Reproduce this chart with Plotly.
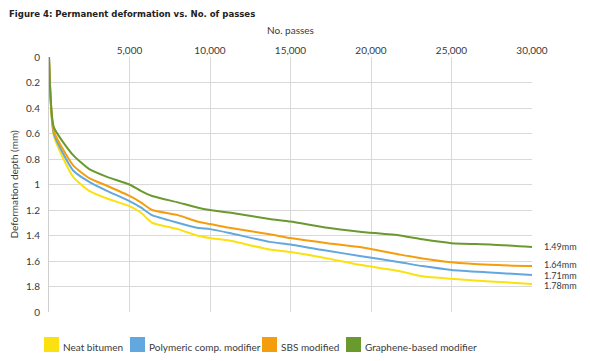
import plotly.graph_objects as go

passes = [0, 300, 1500, 2500, 3600, 5000, 5700, 6400, 8000, 9200, 10000, 11200,
          13700, 15000, 17300, 19300, 21800, 23200, 25000, 27400, 30000]

neat_bitumen = [0, 0.62, 0.94, 1.05, 1.11, 1.17, 1.22, 1.30, 1.35, 1.40, 1.42, 1.44,
                1.51, 1.53, 1.58, 1.63, 1.68, 1.72, 1.74, 1.76, 1.78]
polymeric = [0, 0.60, 0.89, 0.98, 1.05, 1.13, 1.18, 1.24, 1.30, 1.34, 1.35, 1.38,
             1.45, 1.47, 1.52, 1.56, 1.61, 1.64, 1.67, 1.69, 1.71]
sbs = [0, 0.58, 0.85, 0.95, 1.01, 1.09, 1.14, 1.20, 1.24, 1.29, 1.31, 1.34,
       1.39, 1.42, 1.46, 1.49, 1.55, 1.58, 1.61, 1.63, 1.64]
graphene = [0, 0.55, 0.77, 0.88, 0.94, 1.00, 1.05, 1.09, 1.14, 1.18, 1.20, 1.22,
            1.27, 1.29, 1.34, 1.37, 1.40, 1.43, 1.46, 1.47, 1.49]

series_names = ["Neat bitumen", "Polymeric comp. modifier", "SBS modified", "Graphene-based modifier"]
series_values = [neat_bitumen, polymeric, sbs, graphene]
series_colors = ["#FBE10F", "#62A8DE", "#F49E0E", "#6A9A2E"]
label_yshift = [-2, 0, 2, 0]

x_tickvals = [5000, 10000, 15000, 20000, 25000, 30000]
x_ticktext = ["5,000", "10,000", "15,000", "20,000", "25,000", "30,000"]
y_tickvals = [0, 0.2, 0.4, 0.6, 0.8, 1.0, 1.2, 1.4, 1.6, 1.8, 2.0]
y_ticktext = ["0", "0.2", "0.4", "0.6", "0.8", "1", "1.2", "1.4", "1.6", "1.8", "0"]

FONT = "Lato, Open Sans, sans-serif"
TXT = "#3a3a3a"

# page body has an 8px margin; figure is sized/offset to compensate
OFF = 8
W = 582.0
H = 353.0
pl, pt = 49 - OFF, 57 - OFF
pr = W - (532 - OFF)
pb = H - (312 - OFF)
pw = W - pl - pr
ph = H - pt - pb


def px_x(px):
    return (px - OFF - pl) / pw


def px_y(py):
    return (H - pb - (py - OFF)) / ph


fig = go.Figure()
for name, vals, col in zip(series_names, series_values, series_colors):
    fig.add_trace(go.Scatter(x=passes, y=vals, mode="lines", name=name,
                             line=dict(color=col, width=2, shape="spline", smoothing=0.5),
                             showlegend=False))

# end labels
for vals, ys in zip(series_values, label_yshift):
    fig.add_annotation(x=1, xref="paper", y=vals[-1], yref="y", xanchor="left",
                       xshift=11, yshift=ys, text=f"{vals[-1]:.2f}mm", showarrow=False,
                       borderpad=0, font=dict(family=FONT, size=9, color=TXT))

# manual legend
legend_x = [44, 130, 262, 346]
for lx, name, col in zip(legend_x, series_names, series_colors):
    fig.add_shape(type="rect", xref="paper", yref="paper",
                  x0=px_x(lx), x1=px_x(lx + 15), y0=px_y(352), y1=px_y(337),
                  fillcolor=col, line=dict(width=0))
    fig.add_annotation(x=px_x(lx + 17), xref="paper", y=px_y(347), yref="paper",
                       xanchor="left", yanchor="middle", text=name, showarrow=False,
                       font=dict(family=FONT, size=10, color=TXT))

fig.add_annotation(x=px_x(8), xref="paper", y=px_y(14), yref="paper",
                   xanchor="left", yanchor="middle",
                   text="<b>Figure 4: Permanent deformation vs. No. of passes</b>",
                   showarrow=False, borderpad=0,
                   font=dict(family="Liberation Sans Narrow, DejaVu Sans Condensed, Lato, sans-serif",
                             size=9.5, color="#222"))

fig.add_annotation(x=px_x(290), xref="paper", y=px_y(30), yref="paper",
                   xanchor="center", yanchor="middle", text="No. passes", showarrow=False,
                   font=dict(family=FONT, size=10, color=TXT))

fig.update_layout(
    width=W, height=H,
    margin=dict(l=pl, r=pr, t=pt, b=pb, autoexpand=False),
    paper_bgcolor="white", plot_bgcolor="white",
    font=dict(family=FONT, size=10, color=TXT),
    xaxis=dict(side="top", range=[0, 30000], tickvals=x_tickvals, ticktext=x_ticktext,
               showgrid=True, gridcolor="#d9d9d9", gridwidth=1, zeroline=False,
               showline=False, ticks="", tickfont=dict(size=10, color=TXT),
               automargin=False),
    yaxis=dict(range=[2, 0], tickvals=y_tickvals, ticktext=y_ticktext,
               showgrid=True, gridcolor="#d9d9d9", gridwidth=1, zeroline=False,
               showline=True, linecolor="#cfcfcf", linewidth=1, ticks="",
               tickfont=dict(size=10, color=TXT), ticklabelstandoff=6,
               automargin=False,
               title=dict(text="Deformation depth (mm)", font=dict(size=10, color=TXT), standoff=8)),
)

fig.write_html("out.html")
